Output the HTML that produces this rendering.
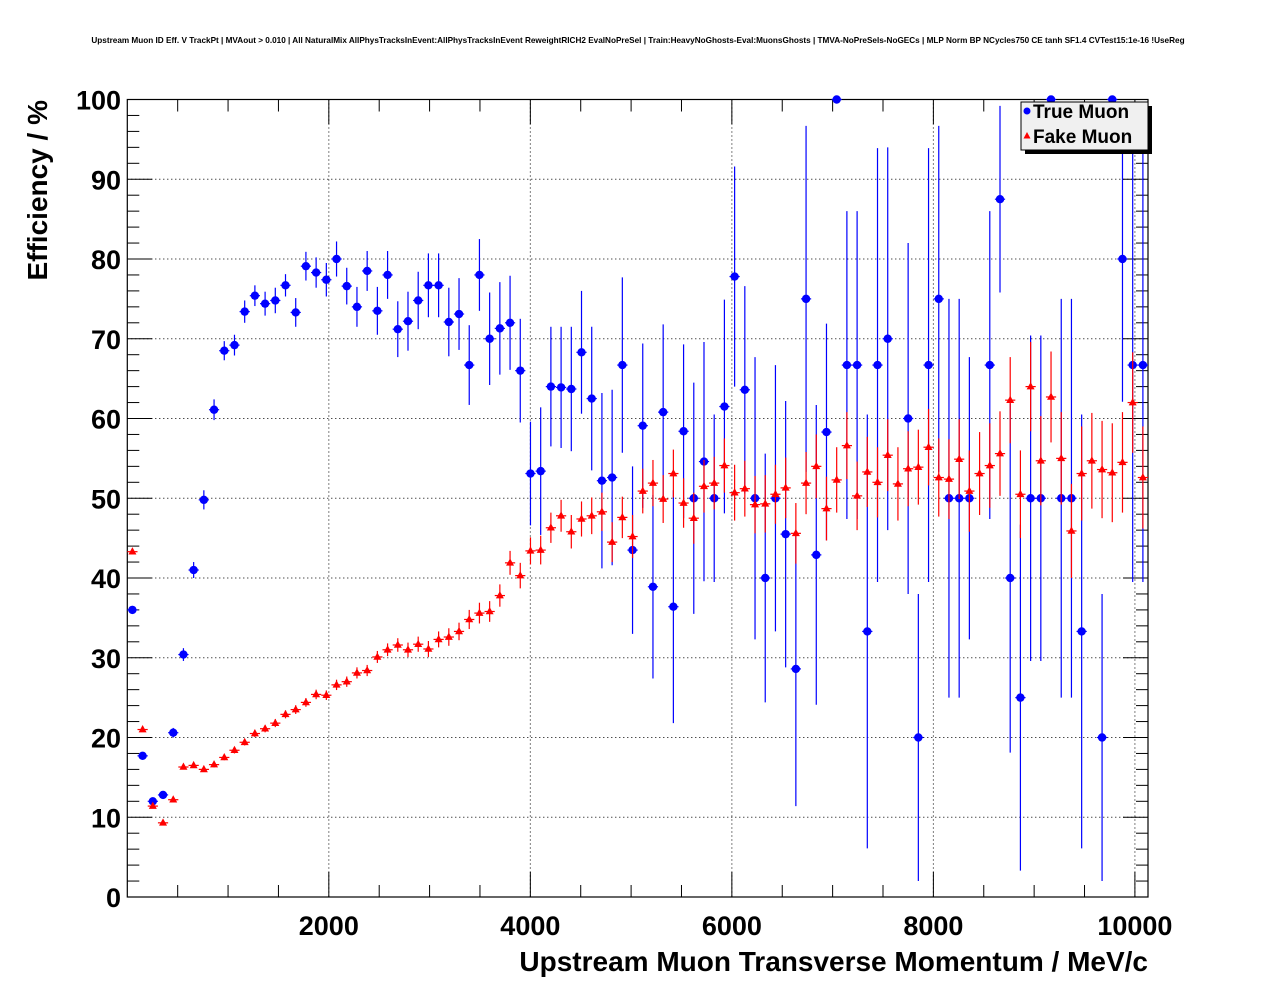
<!DOCTYPE html>
<html><head><meta charset="utf-8"><style>
html,body{margin:0;padding:0;background:#fff;}
svg{display:block;font-family:"Liberation Sans",sans-serif;}
</style></head><body>
<svg id="chart" width="1276" height="996" viewBox="0 0 1276 996" xmlns="http://www.w3.org/2000/svg">
<rect x="0" y="0" width="1276" height="996" fill="#fff"/>
<text x="638" y="43" text-anchor="middle" font-size="8.2" font-weight="bold">Upstream Muon ID Eff. V TrackPt | MVAout &gt; 0.010 | All NaturalMix AllPhysTracksInEvent:AllPhysTracksInEvent ReweightRICH2 EvalNoPreSel | Train:HeavyNoGhosts-Eval:MuonsGhosts | TMVA-NoPreSels-NoGECs | MLP Norm BP NCycles750 CE tanh SF1.4 CVTest15:1e-16 !UseReg</text>
<g id="grid"></g>
<g id="axes"></g>
<g id="blue"></g>
<g id="red"></g>
<text x="1148" y="971" text-anchor="end" font-size="28" font-weight="bold">Upstream Muon Transverse Momentum / MeV/c</text>
<text transform="translate(47,100) rotate(-90)" text-anchor="end" font-size="28" font-weight="bold">Efficiency / %</text>
<g>
<rect x="1025" y="106" width="127" height="48" fill="#000"/>
<rect x="1021" y="102" width="127" height="48" fill="#f0f0f0" stroke="#000" stroke-width="1"/>
<circle cx="1027" cy="111" r="3.5" fill="#0000ff"/>
<text x="1033" y="118" font-size="19" font-weight="bold">True Muon</text>
<polygon points="1027,132 1023.5,138.5 1030.5,138.5" fill="#ff0000"/>
<text x="1033" y="143" font-size="19" font-weight="bold">Fake Muon</text>
</g>
</svg>
<script>
const xTicks = [2000, 4000, 6000, 8000, 10000];
const yTicks = [0, 10, 20, 30, 40, 50, 60, 70, 80, 90, 100];
const trueMuon = [36, 17.7, 12, 12.8, 20.6, 30.4, 41, 49.8, 61.1, 68.5,
 69.2, 73.4, 75.4, 74.4, 74.8, 76.7, 73.3, 79.1, 78.3, 77.4,
 80, 76.6, 74, 78.5, 73.5, 78, 71.2, 72.2, 74.8, 76.7,
 76.7, 72.1, 73.1, 66.7, 78, 70, 71.3, 72, 66, 53.1,
 53.4, 64, 63.9, 63.7, 68.3, 62.5, 52.2, 52.6, 66.7, 43.5,
 59.1, 38.9, 60.8, 36.4, 58.4, 50, 54.6, 50, 61.5, 77.8,
 63.6, 50, 40, 50, 45.5, 28.6, 75, 42.9, 58.3, 100,
 66.7, 66.7, 33.3, 66.7, 70, null, 60, 20, 66.7, 75,
 50, 50, 50, null, 66.7, 87.5, 40, 25, 50, 50,
 100, 50, 50, 33.3, null, 20, 100, 80, 66.7, 66.7];
const trueMuonErr = [0.5, 0.3, 0.5, 0.5, 0.6, 0.8, 1, 1.2, 1.3, 1.2,
 1.3, 1.4, 1.3, 1.5, 1.6, 1.4, 1.8, 1.8, 1.9, 2.1,
 2.2, 2.3, 2.5, 2.5, 3, 3, 3.5, 3.7, 3.6, 4,
 4, 4.3, 4.5, 5, 4.5, 5.8, 5.8, 5.9, 6.5, 6.5,
 8, 7.5, 7.6, 7.8, 7.7, 9, 11, 11, 11, 10.5,
 10.3, 11.5, 11, 14.6, 10.9, 14.5, 15, 10.5, 13.4, 13.8,
 13, 17.7, 15.6, 16.7, 16.7, 17.2, 21.7, 18.8, 13.6, 0,
 19.3, 19.3, 27.2, 27.2, 24, 0, 22, 18, 27.2, 21.7,
 25, 25, 17.7, 0, 19.3, 11.7, 21.9, 21.7, 20.4, 20.4,
 0, 25, 25, 27.2, 0, 18, 0, 17.9, 27.2, 27.2];
const fakeMuon = [43.3, 21, 11.4, 9.3, 12.2, 16.3, 16.5, 16, 16.6, 17.5,
 18.4, 19.4, 20.5, 21.1, 21.8, 22.9, 23.5, 24.4, 25.4, 25.3,
 26.6, 27, 28.1, 28.4, 30.1, 31, 31.6, 31, 31.7, 31.1,
 32.3, 32.6, 33.3, 34.8, 35.6, 35.8, 37.8, 41.9, 40.3, 43.4,
 43.5, 46.3, 47.8, 45.8, 47.4, 47.8, 48.3, 44.5, 47.6, 45.2,
 50.9, 51.9, 49.9, 53.1, 49.4, 47.5, 51.5, 51.9, 54.1, 50.7,
 51.2, 49.2, 49.3, 50.5, 51.3, 45.6, 51.9, 54, 48.7, 52.3,
 56.6, 50.3, 53.3, 52, 55.4, 51.8, 53.7, 53.9, 56.4, 52.6,
 52.4, 54.9, 50.9, 53.1, 54.1, 55.6, 62.3, 50.5, 64, 54.7,
 62.7, 55, 45.9, 53.1, 54.7, 53.6, 53.2, 54.5, 62, 52.6];
const fakeMuonErr = [0.3, 0.3, 0.3, 0.3, 0.3, 0.3, 0.3, 0.3, 0.35, 0.35,
 0.4, 0.4, 0.45, 0.45, 0.5, 0.5, 0.55, 0.55, 0.6, 0.6,
 0.65, 0.65, 0.7, 0.7, 0.75, 0.8, 0.85, 0.9, 0.95, 1,
 1, 1.1, 1.1, 1.2, 1.3, 1.3, 1.4, 1.5, 1.6, 1.7,
 1.8, 1.9, 2, 2.1, 2.2, 2.3, 2.4, 2.5, 2.6, 2.7,
 2.8, 2.9, 3, 3, 3.1, 3.2, 3.3, 3.3, 3.4, 3.5,
 3.5, 3.6, 3.6, 3.7, 3.8, 3.8, 3.9, 4, 4, 4.1,
 4.2, 4.3, 4.4, 4.4, 4.5, 4.6, 4.7, 4.7, 4.8, 4.9,
 5, 5, 5.1, 5.2, 5.3, 5.3, 5.4, 5.5, 5.6, 5.6,
 5.7, 5.8, 5.9, 5.9, 6, 6.1, 6.2, 6.3, 6.3, 6.4];

const NS = 'http://www.w3.org/2000/svg';
const L = 127.3, R = 1148, T = 99.5, B = 897;
const XMAX = 10130, NB = 100;
const xs = v => L + v / XMAX * (R - L);
const ys = v => B - v / 100 * (B - T);
const binC = i => (i + 0.5) * XMAX / NB;
const binW = (R - L) / NB;

function mk(tag, attrs, parent) {
  const e = document.createElementNS(NS, tag);
  for (const k in attrs) e.setAttribute(k, attrs[k]);
  parent.appendChild(e);
  return e;
}
const grid = document.getElementById('grid');
const axes = document.getElementById('axes');

xTicks.forEach(t => {
  const e = mk('line', {x1: xs(t), x2: xs(t), y1: T, y2: B, stroke: '#000', 'stroke-width': 1, 'stroke-dasharray': '1,3'}, grid);
  
  
});
yTicks.forEach(t => {
  if (t === 0 || t === 100) return;
  const e = mk('line', {x1: L, x2: R, y1: ys(t), y2: ys(t), stroke: '#000', 'stroke-width': 1, 'stroke-dasharray': '1,3'}, grid);
  
  
});

const fr = mk('rect', {x: L, y: T, width: R - L, height: B - T, fill: 'none', stroke: '#000', 'stroke-width': 1.2}, axes);



for (let v = 500; v <= XMAX; v += 500) {
  const major = v % 2000 === 0;
  const len = major ? 25 : 12;
  const e1 = mk('line', {x1: xs(v), x2: xs(v), y1: B, y2: B - len, stroke: '#000', 'stroke-width': 1}, axes);
  
  
  const e2 = mk('line', {x1: xs(v), x2: xs(v), y1: T, y2: T + len, stroke: '#000', 'stroke-width': 1}, axes);
  
  
}
xTicks.forEach(t => {
  const e = mk('text', {x: xs(t), y: 935, 'text-anchor': 'middle', 'font-size': 27, 'font-weight': 'bold'}, axes);
  e.textContent = String(t);
  
  
});
for (let v = 2; v < 100; v += 2) {
  const major = v % 10 === 0;
  const len = major ? 25 : 12;
  const e1 = mk('line', {x1: L, x2: L + len, y1: ys(v), y2: ys(v), stroke: '#000', 'stroke-width': 1}, axes);
  
  
  const e2 = mk('line', {x1: R, x2: R - len, y1: ys(v), y2: ys(v), stroke: '#000', 'stroke-width': 1}, axes);
  
  
}
yTicks.forEach(t => {
  const e = mk('text', {x: 121, y: ys(t) + 10, 'text-anchor': 'end', 'font-size': 27, 'font-weight': 'bold'}, axes);
  e.textContent = String(t);
  
  
});

function clip(v) { return Math.max(0, Math.min(100, v)); }

function drawSeries(vals, errs, color, gid, shape) {
  const g = document.getElementById(gid);
  vals.forEach((v, i) => {
    if (v === null) return;
    const cx = xs(binC(i)), cy = ys(v);
    const lo = ys(clip(v - errs[i])), hi = ys(clip(v + errs[i]));
    const pt = mk('g', {}, g);
    
    
    mk('line', {x1: cx, x2: cx, y1: lo, y2: hi, stroke: color, 'stroke-width': 1.2}, pt);
    mk('line', {x1: cx - binW / 2, x2: cx + binW / 2, y1: cy, y2: cy, stroke: color, 'stroke-width': 1.2}, pt);
    if (shape === 'circle') {
      mk('circle', {cx: cx, cy: cy, r: 4.2, fill: color}, pt);
    } else {
      mk('polygon', {points: `${cx},${cy - 4.5} ${cx - 4},${cy + 2.8} ${cx + 4},${cy + 2.8}`, fill: color}, pt);
    }
  });
}
drawSeries(fakeMuon, fakeMuonErr, '#ff0000', 'red', 'tri');
drawSeries(trueMuon, trueMuonErr, '#0000ff', 'blue', 'circle');
</script>
</body></html>
